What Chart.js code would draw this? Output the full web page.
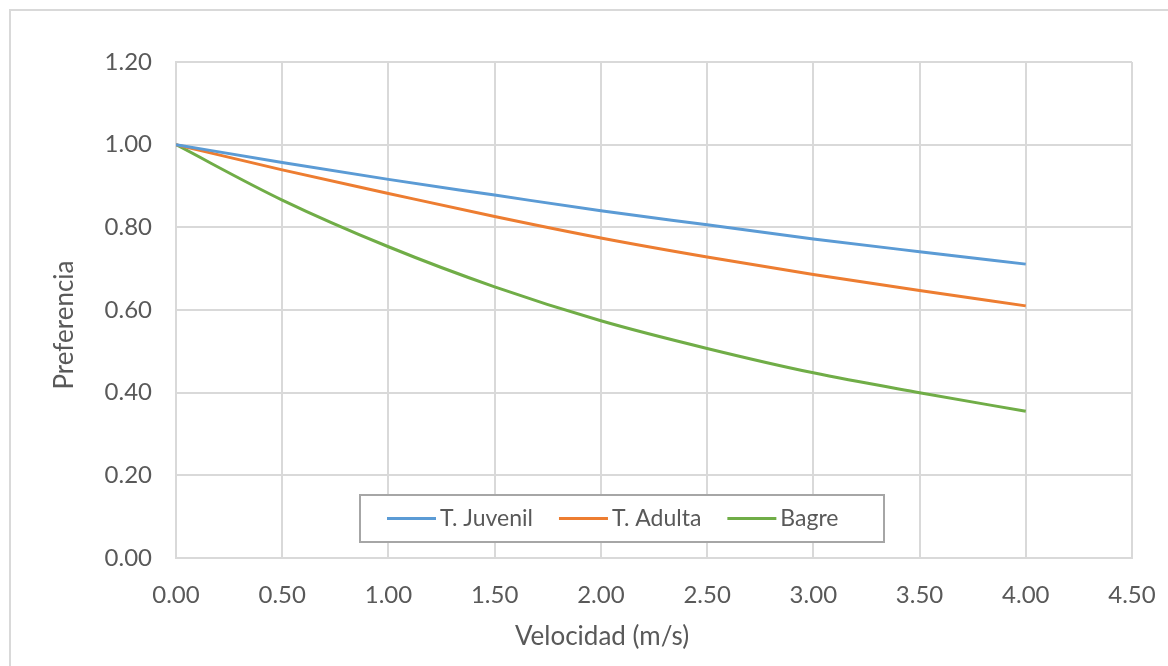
<!DOCTYPE html>
<html>
<head>
<meta charset="utf-8">
<script src="https://cdn.jsdelivr.net/npm/chart.js@4"></script>
<style>
  html, body { margin: 0; padding: 0; background: #fff; overflow: hidden; }
  #frame { position: absolute; left: 9px; top: 9px; width: 1200px; height: 700px; border: 2px solid #d9d9d9; }
  #wrap { position: absolute; left: 0; top: 0; width: 1168px; height: 666px; }
</style>
</head>
<body>
<div id="frame"></div>
<div id="wrap"><canvas id="chart"></canvas></div>
<script>
// velocidad (m/s)
const velocidad = [0, 0.5, 1.0, 1.5, 2.0, 2.5, 3.0, 3.5, 4.0];
// preferencia por especie
const juvenil = [1.00, 0.957, 0.916, 0.878, 0.840, 0.806, 0.772, 0.741, 0.711];
const adulta  = [1.00, 0.939, 0.882, 0.826, 0.774, 0.728, 0.686, 0.647, 0.610];
const bagre   = [1.00, 0.866, 0.753, 0.656, 0.574, 0.507, 0.448, 0.400, 0.355];
const seriesNames = ['T. Juvenil', 'T. Adulta', 'Bagre'];
const seriesColors = ['#5B9BD5', '#ED7D31', '#70AD47'];
const xTicks = [0, 0.5, 1, 1.5, 2, 2.5, 3, 3.5, 4, 4.5];
const yTicks = [0, 0.2, 0.4, 0.6, 0.8, 1.0, 1.2];
const xTitle = 'Velocidad (m/s)';
const yTitle = 'Preferencia';

const FONT = 'Lato, Carlito, Calibri, sans-serif';
const TXT = '#595959';

function pts(ys) {
    return velocidad.map((x, i) => ({x: x, y: ys[i]}));
}

// legend box drawn inside the plot area, like the Excel one
const boxLegend = {
    id: 'boxLegend',
    afterDraw(chart) {
        const ctx = chart.ctx;
        const area = chart.chartArea;
        const left = area.left + 184, top = area.bottom - 63, w = 524, h = 47;
        ctx.save();
        ctx.fillStyle = '#fff';
        ctx.fillRect(left, top, w, h);
        ctx.strokeStyle = '#a6a6a6';
        ctx.lineWidth = 2;
        ctx.strokeRect(left, top, w, h);
        ctx.font = '23px ' + FONT;
        ctx.textBaseline = 'middle';
        ctx.textAlign = 'left';
        let x = left + 27;
        const cy = top + h / 2;
        chart.data.datasets.forEach(ds => {
            ctx.strokeStyle = ds.borderColor;
            ctx.lineWidth = 3;
            ctx.beginPath();
            ctx.moveTo(x, cy);
            ctx.lineTo(x + 49, cy);
            ctx.stroke();
            ctx.fillStyle = TXT;
            ctx.fillText(ds.label, x + 53, cy);
            x += 53 + ctx.measureText(ds.label).width + 26;
        });
        ctx.restore();
    }
};

// axis titles placed where Excel put them
const axisTitles = {
    id: 'axisTitles',
    afterDraw(chart) {
        const ctx = chart.ctx;
        ctx.save();
        ctx.font = '26px ' + FONT;
        ctx.fillStyle = TXT;
        ctx.textAlign = 'center';
        ctx.textBaseline = 'middle';
        ctx.fillText(xTitle, 602, 637);
        ctx.translate(65, 325);
        ctx.rotate(-Math.PI / 2);
        ctx.fillText(yTitle, 0, 0);
        ctx.restore();
    }
};

new Chart(document.getElementById('chart'), {
    type: 'line',
    data: {
        datasets: [
            {label: seriesNames[0], data: pts(juvenil), borderColor: seriesColors[0]},
            {label: seriesNames[1], data: pts(adulta), borderColor: seriesColors[1]},
            {label: seriesNames[2], data: pts(bagre), borderColor: seriesColors[2]}
        ].map(d => Object.assign(d, {
            backgroundColor: d.borderColor,
            borderWidth: 3,
            pointRadius: 0,
            fill: false,
            cubicInterpolationMode: 'monotone'
        }))
    },
    options: {
        responsive: true,
        maintainAspectRatio: false,
        animation: false,
        devicePixelRatio: 1,
        layout: {padding: {top: 62, right: 36, bottom: 0, left: 0}},
        plugins: {
            legend: {display: false},
            tooltip: {enabled: false}
        },
        scales: {
            x: {
                type: 'linear',
                min: 0,
                max: 4.5,
                afterBuildTicks: s => { s.ticks = xTicks.map(v => ({value: v})); },
                afterFit: s => { s.height = 108; },
                ticks: {
                    padding: 0,
                    color: TXT,
                    font: {family: FONT, size: 24},
                    maxRotation: 0,
                    callback: v => Number(v).toFixed(2)
                },
                // invisible tick marks stand in for the label gap
                grid: {color: '#d9d9d9', lineWidth: 2, drawTicks: true, tickLength: 23, tickColor: 'rgba(0,0,0,0)'},
                border: {color: '#d9d9d9', width: 2}
            },
            y: {
                min: 0,
                max: 1.2,
                afterBuildTicks: s => { s.ticks = yTicks.map(v => ({value: v})); },
                afterFit: s => { s.width = 176; },
                ticks: {
                    padding: 24,
                    color: TXT,
                    font: {family: FONT, size: 24},
                    callback: v => Number(v).toFixed(2)
                },
                grid: {color: '#d9d9d9', lineWidth: 2, drawTicks: false},
                border: {color: '#d9d9d9', width: 2}
            }
        }
    },
    plugins: [boxLegend, axisTitles]
});
</script>
</body>
</html>
